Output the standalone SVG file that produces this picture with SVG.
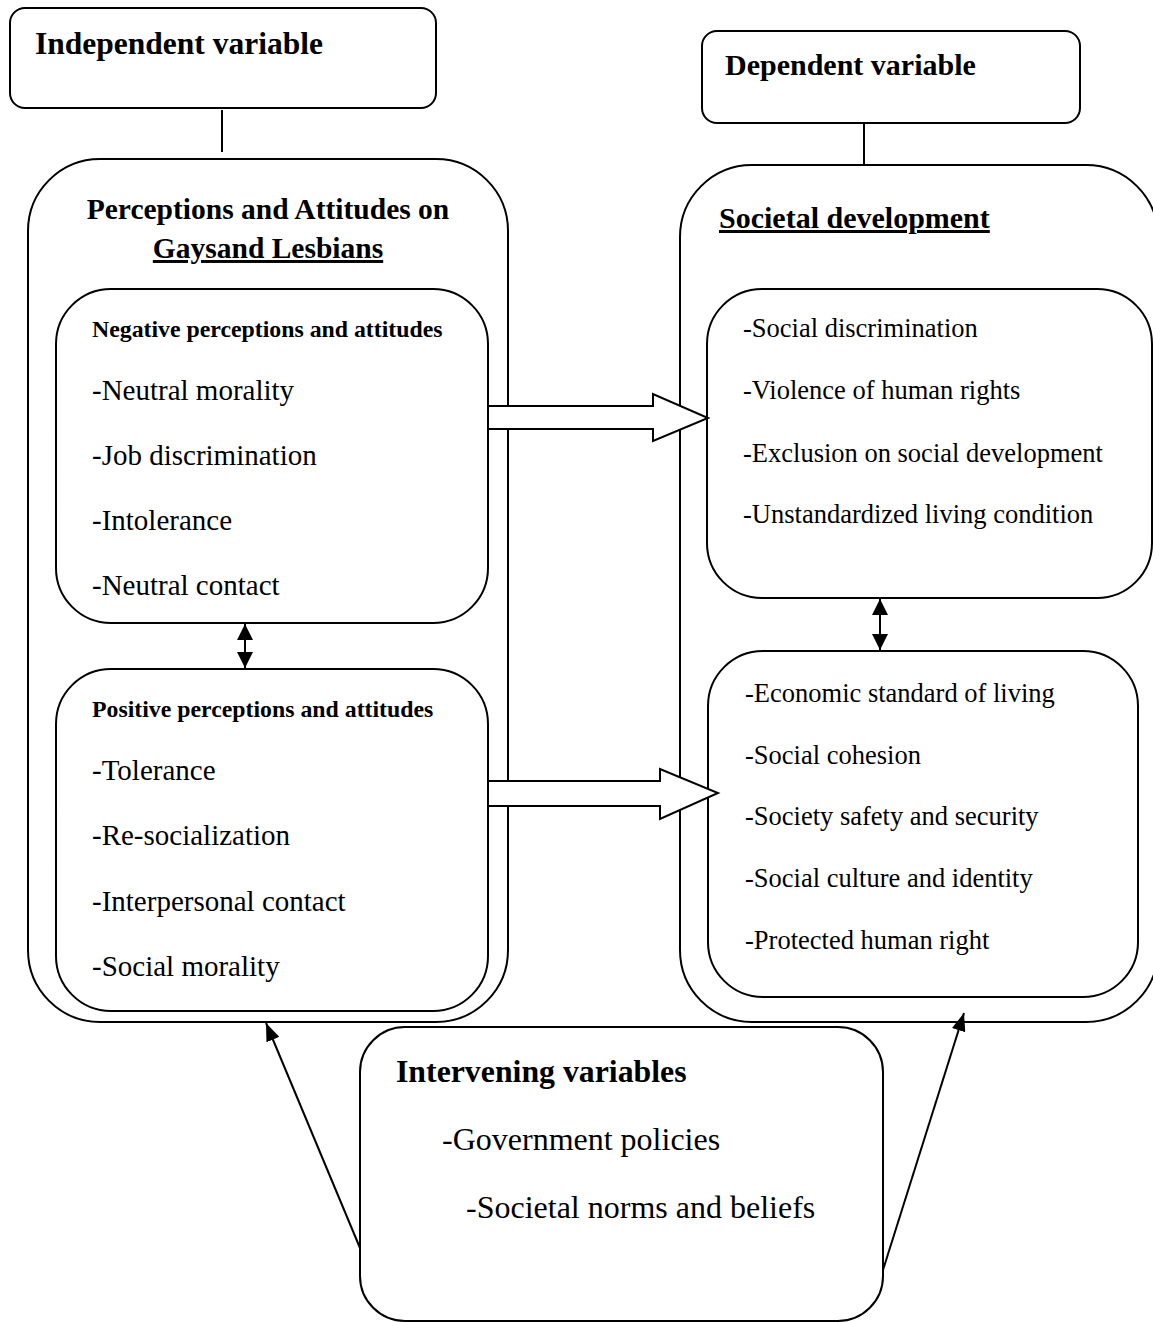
<svg xmlns="http://www.w3.org/2000/svg" width="1153" height="1322" viewBox="0 0 1153 1322">
<style>
.box{fill:#fff;stroke:#000;stroke-width:2}
.t{font-family:"Liberation Serif","Times New Roman",serif;fill:#000}
.hb{font-weight:bold;font-size:30px}
.sb{font-weight:bold;font-size:23.8px}
.li{font-size:29px}
.ri{font-size:26.5px}
.ii{font-size:32px}
.ln{stroke:#000;stroke-width:2;fill:none}
.blk{fill:#fff;stroke:#000;stroke-width:2;stroke-linejoin:miter}
</style>
<defs>
<marker id="ah" viewBox="0 0 16 16" refX="16" refY="8" markerWidth="16" markerHeight="16" markerUnits="userSpaceOnUse" orient="auto-start-reverse">
<path d="M0,0 L16,8 L0,16 z" fill="#000"/>
</marker>
<marker id="ah2" viewBox="0 0 18 14" refX="18" refY="7" markerWidth="18" markerHeight="14" markerUnits="userSpaceOnUse" orient="auto">
<path d="M0,0 L18,7 L0,14 z" fill="#000"/>
</marker>
</defs>

<g id="independent">
<rect class="box" x="10" y="8" width="426" height="100" rx="15"/>
<text class="t hb" x="35" y="54" style="font-size:31.5px">Independent variable</text>
</g>

<g id="dependent">
<rect class="box" x="702" y="31" width="378" height="92" rx="15"/>
<text class="t hb" x="725" y="75">Dependent variable</text>
</g>

<g id="perceptions">
<rect class="box" x="28" y="159" width="480" height="863" rx="72"/>
<text class="t hb" x="268" y="219" text-anchor="middle" style="font-size:29.5px">Perceptions and Attitudes on</text>
<text class="t hb" x="268" y="258" text-anchor="middle" text-decoration="underline" style="font-size:29.5px">Gaysand Lesbians</text>
</g>

<g id="societal">
<rect class="box" x="680" y="165" width="478" height="857" rx="72"/>
<text class="t hb" x="719" y="228" text-decoration="underline">Societal development</text>
</g>

<g id="negative">
<rect class="box" x="56" y="289" width="432" height="334" rx="55"/>
<text class="t sb" x="92" y="337">Negative perceptions and attitudes</text>
<text class="t li" x="92" y="400">-Neutral morality</text>
<text class="t li" x="92" y="465">-Job discrimination</text>
<text class="t li" x="92" y="530">-Intolerance</text>
<text class="t li" x="92" y="595">-Neutral contact</text>
</g>

<g id="positive">
<rect class="box" x="56" y="669" width="432" height="342" rx="55"/>
<text class="t sb" x="92" y="717">Positive perceptions and attitudes</text>
<text class="t li" x="92" y="780">-Tolerance</text>
<text class="t li" x="92" y="845">-Re-socialization</text>
<text class="t li" x="92" y="911">-Interpersonal contact</text>
<text class="t li" x="92" y="976">-Social morality</text>
</g>

<g id="outcomes-negative">
<rect class="box" x="707" y="289" width="445" height="309" rx="55"/>
<text class="t ri" x="743" y="337">-Social discrimination</text>
<text class="t ri" x="743" y="399">-Violence of human rights</text>
<text class="t ri" x="743" y="462">-Exclusion on social development</text>
<text class="t ri" x="743" y="523">-Unstandardized living condition</text>
</g>

<g id="outcomes-positive">
<rect class="box" x="708" y="651" width="430" height="346" rx="55"/>
<text class="t ri" x="745" y="702">-Economic standard of living</text>
<text class="t ri" x="745" y="764">-Social cohesion</text>
<text class="t ri" x="745" y="825">-Society safety and security</text>
<text class="t ri" x="745" y="887">-Social culture and identity</text>
<text class="t ri" x="745" y="949">-Protected human right</text>
</g>

<g id="intervening">
<rect class="box" x="360" y="1027" width="523" height="294" rx="45"/>
<text class="t hb" x="396" y="1082" style="font-size:31.8px">Intervening variables</text>
<text class="t ii" x="442" y="1150">-Government policies</text>
<text class="t ii" x="466" y="1218">-Societal norms and beliefs</text>
</g>

<g id="connectors">
<line class="ln" x1="222" y1="110" x2="222" y2="152"/>
<line class="ln" x1="864" y1="124" x2="864" y2="164"/>
<line class="ln" x1="245" y1="624" x2="245" y2="668" marker-start="url(#ah)" marker-end="url(#ah)"/>
<line class="ln" x1="880" y1="599" x2="880" y2="650" marker-start="url(#ah)" marker-end="url(#ah)"/>
<path class="blk" d="M488,406 L653,406 L653,394 L708,418 L653,441 L653,429 L488,429 Z"/>
<path class="blk" d="M488,781 L660,781 L660,769 L718,793 L660,819 L660,806 L488,806 Z"/>
<line class="ln" x1="360" y1="1248" x2="266" y2="1023" marker-end="url(#ah2)"/>
<line class="ln" x1="883" y1="1270" x2="964" y2="1013" marker-end="url(#ah2)"/>
</g>
</svg>
